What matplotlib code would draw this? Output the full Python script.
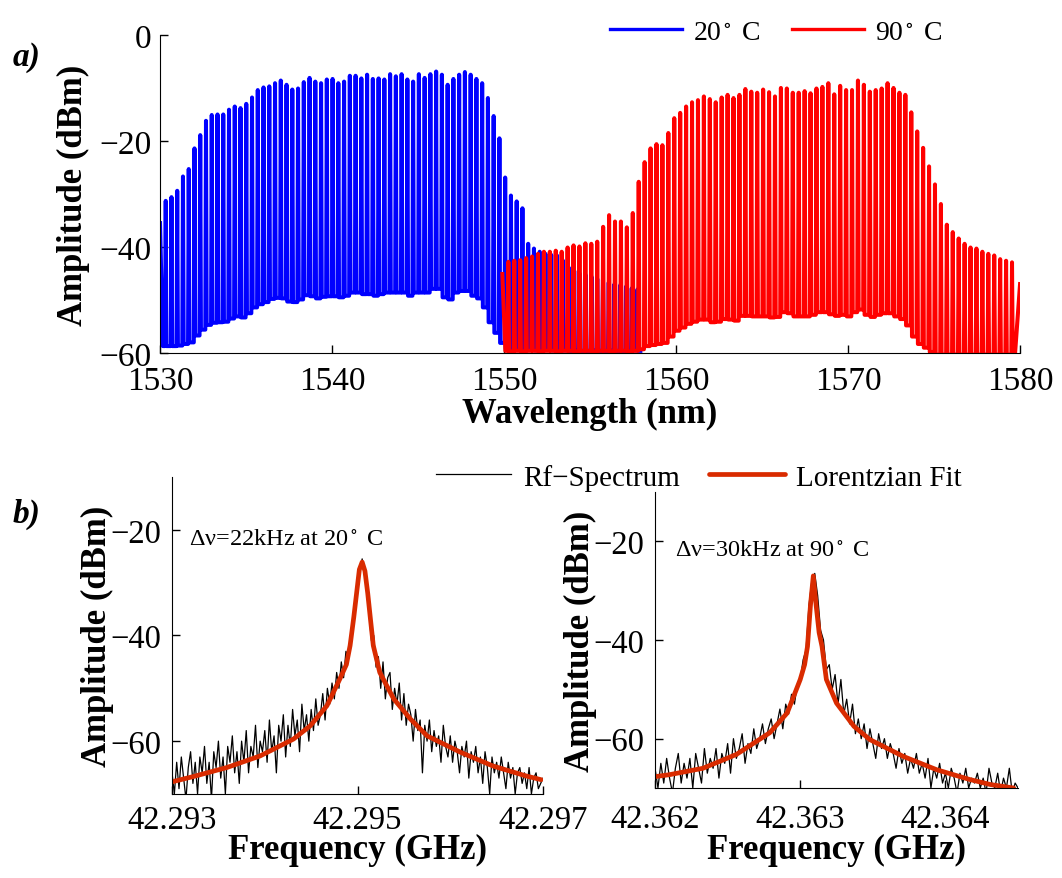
import numpy as np
import matplotlib
matplotlib.use("Agg")
import matplotlib.pyplot as plt

plt.rcParams['font.family'] = ['Liberation Serif', 'DejaVu Serif']
plt.rcParams['mathtext.fontset'] = 'stix'

# ---- a) comb spectra: peak tops / trough floors of each comb line (dBm)
blue_first_nm = 1530.33
blue_step_nm = 0.3345
blue_start = -35.5
blue_peaks = [-31.3, -30.6, -29.4, -26.7, -25.3, -21.4, -18.9, -16.2, -15.1, -15.0,
              -15.0, -14.1, -13.5, -13.8, -13.0, -11.8, -10.4, -9.9, -9.7, -9.1,
              -8.6, -9.4, -10.3, -10.1, -8.9, -8.1, -8.8, -9.1, -8.4, -8.3,
              -9.1, -8.8, -7.7, -7.7, -8.2, -7.5, -8.3, -8.2, -8.4, -7.4,
              -7.8, -7.4, -8.4, -8.8, -7.4, -8.1, -7.4, -6.9, -7.5, -9.4,
              -8.3, -7.5, -7.0, -7.5, -8.3, -9.1, -11.9, -15.3, -19.5, -26.9,
              -30.3, -31.4, -32.7, -39.4, -40.3, -40.9, -41.3, -41.5, -41.6, -42.5,
              -43.8, -44.5, -45.1, -45.3, -45.6, -46.0, -46.2, -46.7, -47.0, -47.2,
              -47.5, -47.8, -48.0]
blue_troughs = [-58.7, -58.7, -58.7, -58.6, -58.3, -58.0, -56.7, -55.6, -54.7, -54.3,
                -54.2, -54.1, -53.5, -53.1, -53.3, -52.5, -51.4, -50.8, -50.4, -49.8,
                -49.6, -49.7, -50.3, -50.4, -49.9, -49.1, -49.3, -49.7, -49.4, -49.3,
                -49.3, -49.5, -49.2, -48.6, -48.6, -48.9, -48.9, -49.2, -48.9, -48.6,
                -48.6, -48.6, -48.6, -49.2, -48.6, -48.6, -48.6, -47.9, -47.9, -49.5,
                -49.9, -48.6, -48.3, -48.3, -49.2, -49.7, -51.4, -54.2, -56.2, -58.1,
                -59.2, -59.3, -59.4, -59.5, -59.4, -59.5, -59.5, -59.4, -59.5, -59.6,
                -59.5, -59.6, -59.5, -59.6, -59.6, -59.5, -59.6, -59.6, -59.5, -59.6,
                -59.6, -59.6, -59.5, -59.6]

red_first_nm = 1550.25
red_step_nm = 0.3445
red_start = -45.1
red_end = -47.0
red_peaks = [-42.8, -42.6, -42.5, -42.1, -41.8, -41.3, -40.9, -40.9, -40.7, -40.9,
             -40.1, -39.7, -39.9, -39.3, -39.4, -39.0, -36.2, -34.0, -35.2, -35.2,
             -36.3, -33.6, -27.7, -24.0, -21.4, -20.6, -20.8, -18.5, -15.7, -14.7,
             -13.5, -12.7, -12.3, -11.6, -12.1, -12.7, -11.8, -11.3, -11.9, -11.3,
             -10.2, -10.7, -10.9, -10.3, -10.8, -11.6, -10.0, -10.1, -10.9, -10.9,
             -10.6, -11.0, -10.1, -9.8, -9.1, -11.2, -9.6, -10.4, -10.4, -8.6,
             -9.4, -10.7, -10.4, -10.1, -9.1, -10.0, -10.9, -11.3, -14.6, -18.2,
             -21.3, -24.8, -28.2, -31.9, -35.8, -37.2, -38.4, -39.4, -40.1, -40.3,
             -40.9, -41.3, -41.6, -42.3, -42.6, -42.9]
red_troughs = [-59.6, -59.7, -59.6, -59.7, -59.6, -59.6, -59.7, -59.6, -59.6, -59.7,
               -59.6, -59.6, -59.7, -59.6, -59.6, -59.7, -59.6, -59.6, -59.7, -59.6,
               -59.6, -59.7, -59.6, -59.3, -58.7, -58.5, -58.3, -58.1, -56.9, -55.8,
               -55.2, -54.5, -54.1, -53.7, -53.7, -54.2, -54.1, -53.6, -53.7, -53.9,
               -53.0, -53.0, -53.1, -53.1, -53.1, -53.3, -53.2, -52.3, -52.5, -53.1,
               -53.1, -53.1, -52.8, -52.3, -52.3, -52.7, -53.0, -52.8, -53.1, -52.3,
               -51.8, -52.8, -53.2, -52.8, -52.5, -52.5, -53.1, -53.6, -54.8, -56.9,
               -58.3, -59.0, -59.8, -60.3, -60.3, -60.3, -60.3, -60.3, -60.3, -60.3,
               -60.3, -60.3, -60.3, -60.3, -60.3, -60.3, -60.3]

# ---- b) RF beat notes (GHz, dBm)
rf20_f0, rf20_f1 = 42.293, 42.297
rf20 = [-66, -70, -64, -69, -63, -67, -71, -65, -62, -68,
        -64, -70, -63, -66, -61, -68, -64, -71, -62, -65,
        -60, -67, -63, -70, -61, -64, -59, -66, -62, -68,
        -60, -64, -58, -66, -61, -63, -57, -65, -60, -62,
        -58, -64, -56, -62, -59, -66, -57, -60, -55, -63,
        -57, -61, -54, -59, -56, -62, -53, -58, -55, -60,
        -54, -58, -52, -57, -55, -51, -56, -50, -53, -49,
        -52, -47, -50, -45, -48, -43, -44, -40, -38, -34,
        -31, -28, -25.5, -28, -32, -36, -41, -40, -46, -44,
        -50, -45, -52, -48, -47, -54, -50, -53, -49, -56,
        -51, -57, -53, -55, -60, -54, -58, -56, -66, -57,
        -60, -56, -62, -58, -61, -59, -64, -57, -61, -63,
        -59, -64, -60, -62, -66, -61, -63, -60, -67, -62,
        -64, -61, -66, -63, -68, -62, -65, -70, -63, -66,
        -64, -67, -63, -66, -69, -64, -67, -65, -70, -66,
        -65, -68, -66, -69, -65, -70, -67, -66, -69, -68, -67]
fit20_f = [42.29300, 42.29323, 42.29359, 42.29395, 42.29431, 42.29449, 42.29467,
           42.29481, 42.29488, 42.29492, 42.29496, 42.29499, 42.29502, 42.29505,
           42.29508, 42.29511, 42.29514, 42.29517, 42.29524, 42.29539, 42.29557,
           42.29575, 42.29611, 42.29646, 42.29682, 42.29698]
fit20 = [-67.7, -66.7, -65.0, -62.8, -59.6, -57.1, -53.3,
         -48.2, -45.5, -41.9, -36.5, -32.0, -27.5, -26.1,
         -27.8, -32.0, -37.0, -41.9, -47.0, -52.0, -55.8,
         -59.0, -62.1, -64.7, -66.6, -67.3]

rf90_f0, rf90_f1 = 42.362, 42.3645
rf90 = [-66, -70, -65, -69, -64, -68, -71, -66, -63, -69,
        -65, -68, -64, -70, -63, -66, -69, -62, -67, -64,
        -66, -62, -68, -63, -65, -61, -67, -60, -64, -62,
        -59, -65, -61, -63, -58, -62, -60, -57, -61, -58,
        -56, -60, -57, -54, -58, -53, -55, -51, -53, -49,
        -48, -44, -42, -33, -28, -26.5, -31, -38, -40, -46,
        -45, -50, -47, -53, -48, -55, -52, -57, -53, -59,
        -56, -60, -57, -62, -58, -61, -64, -59, -62, -60,
        -64, -61, -63, -66, -62, -65, -63, -67, -64, -66,
        -63, -67, -65, -68, -64, -70, -66, -68, -65, -69,
        -67, -70, -66, -68, -71, -67, -69, -66, -70, -68,
        -69, -67, -70, -68, -71, -66, -69, -70, -67, -71,
        -68, -70, -66, -71, -69, -70]
fit90_f = [42.36200, 42.36210, 42.36233, 42.36256, 42.36279, 42.36291, 42.36300,
           42.36303, 42.36305, 42.36307, 42.36309, 42.36311, 42.36313, 42.36315,
           42.36318, 42.36325, 42.36337, 42.36348, 42.36371, 42.36394, 42.36417,
           42.36431, 42.36447]
fit90 = [-67.7, -67.3, -66.0, -63.2, -58.8, -54.8, -48.0,
         -45.0, -41.3, -33.1, -27.0, -33.1, -38.5, -41.3,
         -48.0, -52.8, -57.5, -60.2, -63.6, -66.3, -68.3,
         -69.3, -70.0]

fit_color = '#d92b00'


def comb_line(first, step, start_x, start_y, peaks, troughs, end=None, edge=0.12):
    # each comb line: steep flanks up to its peak, short floor between lines
    px = first + step * np.arange(len(peaks))
    d = edge * step
    xs = [start_x]
    ys = [start_y]
    for k in range(len(peaks)):
        xs += [px[k] - step + d if k else px[k] - step / 2, px[k] - d, px[k]]
        ys += [troughs[k], troughs[k], peaks[k]]
    xs += [px[-1] + d, px[-1] + step / 2]
    ys += [troughs[len(peaks)], troughs[len(peaks)]]
    if end is not None:
        xs.append(end[0])
        ys.append(end[1])
    return np.array(xs), np.array(ys)


def style_axes(ax, size, xpad, ypad):
    for s in ['top', 'right']:
        ax.spines[s].set_visible(False)
    ax.tick_params(direction='in', length=6, width=1, labelsize=size)
    ax.tick_params(axis='x', pad=xpad)
    ax.tick_params(axis='y', pad=ypad)


fig = plt.figure(figsize=(10.62, 8.79), dpi=100)

# a)
ax = fig.add_axes([0.1507, 0.5973, 0.8098, 0.3618])
bx, by = comb_line(blue_first_nm, blue_step_nm, 1530.0, blue_start, blue_peaks, blue_troughs)
rx, ry = comb_line(red_first_nm, red_step_nm, 1549.9, red_start, red_peaks, red_troughs,
                   end=(1580.0, red_end))
ln_b, = ax.plot(bx, by, color='#0000ff', lw=2.9)
ln_r, = ax.plot(rx, ry, color='#ff0000', lw=2.9)
ax.set_xlim(1530, 1580)
ax.set_ylim(-60, 0)
ax.set_xticks([1530, 1540, 1550, 1560, 1570, 1580])
ax.set_yticks([0, -20, -40, -60])
style_axes(ax, 24, 9, 6)
ax.set_xlabel('Wavelength (nm)', fontsize=25, fontweight='bold', labelpad=1)
ax.set_ylabel('Amplitude (dBm)', fontsize=25, fontweight='bold', labelpad=7)
fig.legend([ln_b, ln_r], ['20$^\\circ$ C', '90$^\\circ$ C'], ncol=2, frameon=False,
           fontsize=20, loc='center', bbox_to_anchor=(0.731, 0.962),
           handlelength=2.6, columnspacing=1.1, handletextpad=0.4)
for h in fig.legends[0].legend_handles:
    h.set_linewidth(2.4)
fig.text(0.012, 0.925, 'a)', fontsize=24, fontweight='bold', style='italic')

# b) left
ax1 = fig.add_axes([0.1620, 0.0956, 0.3493, 0.3606])
f20 = np.linspace(rf20_f0, rf20_f1, len(rf20))
ln_rf, = ax1.plot(f20, rf20, color='black', lw=0.9)
ln_fit, = ax1.plot(fit20_f, fit20, color=fit_color, lw=3.4, solid_capstyle='round')
ax1.set_xlim(42.293, 42.297)
ax1.set_ylim(-70, -10)
ax1.set_xticks([42.293, 42.295, 42.297])
ax1.set_xticklabels(['42.293', '42.295', '42.297'])
ax1.set_yticks([-20, -40, -60])
style_axes(ax1, 23.5, 7.5, 8)
ax1.set_xlabel('Frequency (GHz)', fontsize=25, fontweight='bold', labelpad=-1.5)
ax1.set_ylabel('Amplitude (dBm)', fontsize=25, fontweight='bold', labelpad=-3)
ax1.text(42.29318, -21.7, '\u0394\u03bd=22kHz at 20$^\\circ$ C', fontsize=17.5, va='center')
fig.text(0.012, 0.405, 'b)', fontsize=24, fontweight='bold', style='italic')

# b) right
ax2 = fig.add_axes([0.6168, 0.1024, 0.3418, 0.3367])
f90 = np.linspace(rf90_f0, rf90_f1, len(rf90))
ax2.plot(f90, rf90, color='black', lw=0.9)
ax2.plot(fit90_f, fit90, color=fit_color, lw=3.4, solid_capstyle='round')
ax2.set_xlim(42.362, 42.3645)
ax2.set_ylim(-70, -10)
ax2.set_xticks([42.362, 42.363, 42.364])
ax2.set_xticklabels(['42.362', '42.363', '42.364'])
ax2.set_yticks([-20, -40, -60])
style_axes(ax2, 23.5, 11.5, 8)
ax2.set_xlabel('Frequency (GHz)', fontsize=25, fontweight='bold', labelpad=-1)
ax2.set_ylabel('Amplitude (dBm)', fontsize=25, fontweight='bold', labelpad=-3)
ax2.text(42.36214, -21.6, '\u0394\u03bd=30kHz at 90$^\\circ$ C', fontsize=17.5, va='center')

fig.legend([ln_rf, ln_fit], ['Rf\u2212Spectrum', 'Lorentzian Fit'], ncol=2, frameon=False,
           fontsize=21, loc='center', bbox_to_anchor=(0.658, 0.456),
           handlelength=2.6, columnspacing=1.0, handletextpad=0.4)

fig.savefig('out.png', dpi=100)
